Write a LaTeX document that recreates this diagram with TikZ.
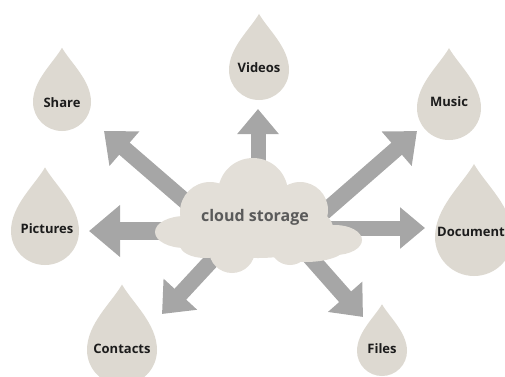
\documentclass[tikz,border=0pt]{standalone}
\usepackage{fontspec}
\setmainfont{Open Sans}
\usetikzlibrary{arrows.meta}
\definecolor{dropc}{HTML}{DDD9D1}
\definecolor{cloudc}{HTML}{E3DFD8}
\definecolor{arrc}{HTML}{A6A6A6}
\definecolor{lblc}{HTML}{1C1C1C}
\definecolor{cltxt}{HTML}{5A5A5A}
\newcommand\mydrop[3]{% cx, cy, r
 \fill[dropc] (#1,{#2-1.87*#3}) .. controls ({#1+0.3*#3},{#2-1.35*#3}) and ({#1+#3},{#2-0.75*#3}) .. ({#1+#3},#2)
   .. controls ({#1+#3},{#2+0.552*#3}) and ({#1+0.552*#3},{#2+#3}) .. (#1,{#2+#3})
   .. controls ({#1-0.552*#3},{#2+#3}) and ({#1-#3},{#2+0.552*#3}) .. ({#1-#3},#2)
   .. controls ({#1-#3},{#2-0.75*#3}) and ({#1-0.3*#3},{#2-1.35*#3}) .. cycle;}
\tikzset{
  lbl/.style={text=lblc, font=\fontsize{13}{15}\selectfont\bfseries, inner sep=0pt},
  fatarrow/.style={draw=arrc, line width=16pt, line cap=butt, -{Triangle[width=44pt,length=27pt]}},
}
\begin{document}
\begin{tikzpicture}[x=1pt,y=-1pt]
\useasboundingbox (0,0) rectangle (505,376);
% arrow coordinates
\coordinate (sV) at (258,200); \coordinate (tV) at (258,109);
\coordinate (sS) at (200,214); \coordinate (tS) at (104,131);
\coordinate (sM) at (315,220); \coordinate (tM) at (417,131);
\coordinate (sP) at (190,231); \coordinate (tP) at (89,231);
\coordinate (sD) at (320,228); \coordinate (tD) at (425,228);
\coordinate (sC) at (225,246); \coordinate (tC) at (162,314);
\coordinate (sF) at (295,240); \coordinate (tF) at (363,317);
\draw[fatarrow,line width=15pt,-{Triangle[width=40pt,length=25pt]}] (sV) -- (tV);
\draw[fatarrow] (sS) -- (tS);
\draw[fatarrow] (sM) -- (tM);
\draw[fatarrow,line width=18pt,-{Triangle[width=50pt,length=31pt]}] (sP) -- (tP);
\draw[fatarrow,line width=15pt,-{Triangle[width=40pt,length=25pt]}] (sD) -- (tD);
\draw[fatarrow] (sC) -- (tC);
\draw[fatarrow] (sF) -- (tF);
% cloud
\begin{scope}[fill=cloudc]
\fill (253,193) circle[radius=35];
\fill (210,212) circle[radius=30];
\fill (300,210) circle[radius=28];
\fill (185,232) ellipse[x radius=30,y radius=16];
\fill (335,240) ellipse[x radius=27,y radius=15];
\fill (232,250) circle[radius=23];
\fill (205,245) ellipse[x radius=25,y radius=13];
\fill (290,245) circle[radius=20];
\fill (305,248) ellipse[x radius=40,y radius=14];
\fill (258,228) ellipse[x radius=75,y radius=30];
\end{scope}
\node[text=cltxt, font=\fontsize{16}{18}\selectfont\bfseries, inner sep=0pt] (cloud) at (255,217) {cloud storage};
% drops
\mydrop{259}{70}{30}
\mydrop{62}{102}{29}
\mydrop{449}{108}{32}
\mydrop{45}{231}{34}
\mydrop{474}{237}{39}
\mydrop{122}{350}{35}
\mydrop{382}{351}{25}
\node[lbl] (videos) at (259,68) {Videos};
\node[lbl] (share) at (62,103) {Share};
\node[lbl] (music) at (449,102) {Music};
\node[lbl] (pictures) at (47,229) {Pictures};
\node[lbl,anchor=west] (document) at (437,232) {Document};
\node[lbl] (contacts) at (122,349) {Contacts};
\node[lbl] (files) at (382,349) {Files};
\end{tikzpicture}
\end{document}
